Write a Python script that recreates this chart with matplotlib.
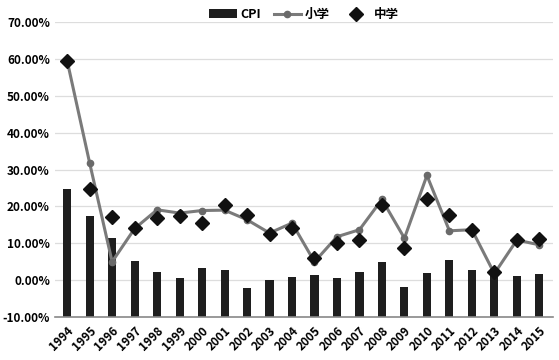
import numpy as np
import matplotlib
matplotlib.use("Agg")
import matplotlib.pyplot as plt
from matplotlib.ticker import FuncFormatter

plt.rcParams['font.family'] = ['Noto Sans CJK SC', 'DejaVu Sans']

years = [str(y) for y in range(1994, 2016)]
cpi = [24.8, 17.3, 11.4, 5.3, 2.3, 0.5, 3.4, 2.9, -2.0, 0.0, 0.9,
       1.3, 0.6, 2.2, 4.9, -1.8, 2.1, 5.4, 2.9, 1.6, 1.2, 1.6]
primary = [59.5, 31.8, 5.0, 14.0, 19.1, 18.2, 18.9, 19.0, 16.4, 12.8, 15.5,
           5.0, 11.8, 13.7, 21.9, 11.4, 28.4, 13.4, 13.7, 1.8, 10.9, 9.6]
middle = [59.5, 24.6, 17.1, 14.2, 16.9, 17.3, 15.5, 20.5, 17.8, 12.6, 14.1,
          5.9, 10.0, 10.9, 20.5, 8.7, 22.0, 17.8, 13.7, 2.3, 10.9, 11.1]

base = -10
x = np.arange(len(years))

fig = plt.figure(figsize=(5.59, 3.6), dpi=100)
ax = fig.add_axes([0.098, 0.119, 0.891, 0.82])

b = ax.bar(x, np.array(cpi) - base, bottom=base, width=0.36, color='#1e1e1e',
           label='CPI', zorder=2)
l1, = ax.plot(x, primary, color='#7a7a7a', lw=2.2, marker='o', markersize=4.5,
              markerfacecolor='#6a6a6a', markeredgecolor='#6a6a6a', label='小学', zorder=3)
l2, = ax.plot(x, middle, linestyle='None', marker='D', markersize=7,
              color='#111111', label='中学', zorder=4)

ax.set_ylim(-10, 70)
ax.set_xlim(-0.55, 21.6)
ax.set_yticks(np.arange(-10, 71, 10))
ax.yaxis.set_major_formatter(FuncFormatter(lambda v, pos: '{:.2f}%'.format(v)))
ax.set_xticks(x)
ax.set_xticklabels(years, rotation=45, ha='right', rotation_mode='anchor')
ax.grid(axis='y', color='#dddddd', lw=0.9, zorder=0)
for s in ['top', 'right', 'left']:
    ax.spines[s].set_visible(False)
ax.spines['bottom'].set_color('#888888')
ax.spines['bottom'].set_linewidth(1.2)
ax.tick_params(axis='both', length=0, labelsize=8.5)
for lab in ax.get_xticklabels() + ax.get_yticklabels():
    lab.set_fontweight('bold')
ax.tick_params(axis='x', pad=5)

leg = ax.legend([b, l1, l2], ['CPI', '小学', '中学'], loc='upper center',
                bbox_to_anchor=(0.5, 1.085), ncol=3, frameon=False, fontsize=9,
                handlelength=2.2, columnspacing=1.0, handletextpad=0.3)
for t in leg.get_texts():
    t.set_fontweight('bold')

fig.savefig('out.png', dpi=100)
